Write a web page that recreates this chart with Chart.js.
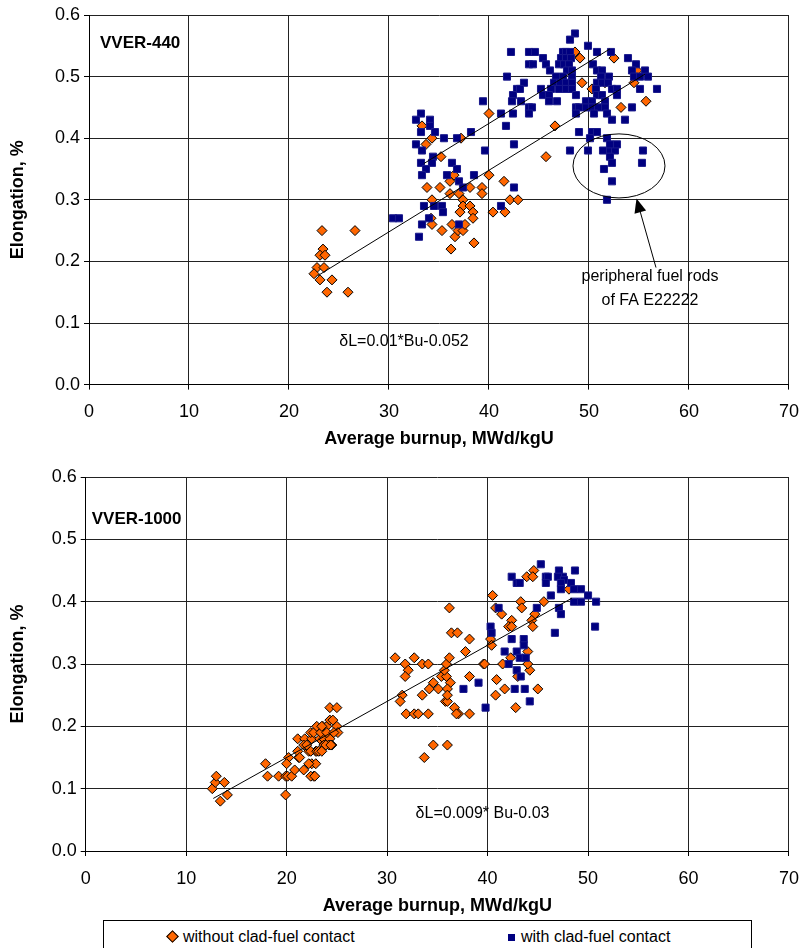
<!DOCTYPE html>
<html>
<head>
<meta charset="utf-8">
<script src="https://cdn.jsdelivr.net/npm/chart.js@4.4.0/dist/chart.umd.min.js"></script>
<style>
  body { margin: 0; background: #fff; }
  #wrap { position: relative; width: 811px; height: 948px; overflow: hidden; }
  .panel { position: absolute; left: 0; }
  #legend {
    position: absolute; left: 103px; top: 920px; width: 649px; height: 40px;
    border: 1px solid #000; box-sizing: border-box;
    font: 16px 'Liberation Sans Narrow', 'Arial Narrow', 'Liberation Sans', Arial, sans-serif;
  }
  #legend .item { position: absolute; top: 7px; white-space: nowrap; }
  #legend .diamond {
    display: inline-block; width: 7px; height: 7px; background: #ff6600;
    border: 1px solid #000; transform: rotate(45deg); margin-right: 6px; vertical-align: 1px;
  }
  #legend .square {
    display: inline-block; width: 7px; height: 7px; background: #000080;
    margin-right: 6px; vertical-align: 1px;
  }
</style>
</head>
<body>
<div id="wrap">
  <div class="panel" style="top:0"><canvas id="vver440" width="811" height="450"></canvas></div>
  <div class="panel" style="top:462px"><canvas id="vver1000" width="811" height="455"></canvas></div>
  <div id="legend">
    <span class="item" style="left:64px"><span class="diamond"></span>without clad-fuel contact</span>
    <span class="item" style="left:404px"><span class="square"></span>with clad-fuel contact</span>
  </div>
</div>
<script>
// VVER-440: [burnup, elongation]
const vver440Without = [
  [23.3,0.25],[26.6,0.25],[23.4,0.22],[23.1,0.21],[23.6,0.21],[22.8,0.19],[23.5,0.19],[22.5,0.18],
  [23.1,0.17],[24.3,0.17],[23.8,0.15],[25.9,0.15],
  [33.3,0.42],[33.7,0.39],[34.3,0.40],[35.2,0.37],[33.8,0.32],[35.1,0.32],[34.3,0.30],[34.2,0.27],
  [34.3,0.26],[35.3,0.25],[36.2,0.22],[36.3,0.26],[36.6,0.24],[36.1,0.33],[36.5,0.34],[36.1,0.31],
  [37.0,0.31],[37.2,0.40],[37.4,0.30],[37.4,0.29],[37.1,0.28],[36.9,0.25],[37.4,0.25],[37.6,0.26],
  [38.1,0.32],[38.1,0.29],[38.4,0.28],[38.4,0.27],[38.5,0.23],[39.3,0.32],[39.3,0.31],[40.0,0.44],
  [40.0,0.34],[40.4,0.28],[41.5,0.33],[41.6,0.28],[42.1,0.30],[42.9,0.30],[45.7,0.37],[46.6,0.42],
  [48.6,0.54],[49.1,0.53],[49.3,0.49],[50.3,0.48],[51.6,0.49],[52.5,0.53],[53.2,0.45],[54.5,0.49],
  [55.7,0.46],[54.8,0.51]
];
const vver440With = [
  [33.2,0.44],[32.7,0.43],[34.1,0.43],[34.1,0.42],[33.2,0.41],[34.6,0.41],[35.5,0.40],[36.8,0.40],
  [38.2,0.41],[32.7,0.39],[33.3,0.38],[39.6,0.38],[34.4,0.37],[33.2,0.36],[34.3,0.36],[33.7,0.35],
  [33.3,0.34],[36.3,0.36],[36.8,0.35],[35.8,0.34],[37.0,0.33],[37.4,0.32],[38.5,0.34],[33.5,0.29],
  [34.5,0.29],[35.3,0.29],[35.4,0.28],[34.0,0.27],[33.3,0.26],[33.0,0.24],[30.4,0.27],[31.0,0.27],
  [37.0,0.26],
  [48.6,0.57],[48.1,0.56],[49.9,0.55],[42.2,0.54],[44.0,0.54],[44.6,0.54],[47.4,0.54],[47.7,0.54],
  [48.1,0.54],[50.8,0.54],[52.2,0.54],[45.4,0.53],[47.2,0.53],[47.7,0.53],[48.2,0.53],[53.9,0.53],
  [44.0,0.52],[44.4,0.52],[45.7,0.52],[47.0,0.52],[47.5,0.52],[48.0,0.52],[50.4,0.52],[54.7,0.52],
  [55.6,0.51],[46.1,0.51],[47.8,0.51],[48.3,0.51],[50.8,0.51],[51.3,0.51],[54.3,0.51],[41.8,0.50],
  [46.7,0.50],[47.4,0.50],[48.3,0.50],[51.2,0.50],[52.0,0.50],[54.5,0.50],[55.1,0.50],[55.9,0.50],
  [43.5,0.49],[46.5,0.49],[47.1,0.49],[47.7,0.49],[48.3,0.49],[50.8,0.49],[51.3,0.49],[51.9,0.49],
  [42.8,0.48],[43.1,0.48],[45.2,0.48],[46.2,0.48],[47.0,0.48],[47.7,0.48],[48.3,0.48],[50.7,0.48],
  [52.3,0.48],[52.8,0.48],[55.1,0.48],[56.8,0.48],[42.4,0.47],[45.4,0.47],[46.0,0.47],[48.7,0.47],
  [50.8,0.47],[51.3,0.47],[52.8,0.47],[39.4,0.46],[42.3,0.46],[43.2,0.46],[46.0,0.46],[46.8,0.46],
  [49.7,0.46],[50.3,0.46],[51.6,0.46],[44.0,0.45],[44.3,0.45],[48.7,0.45],[49.0,0.45],[49.7,0.45],
  [50.3,0.45],[50.9,0.45],[51.6,0.45],[54.3,0.45],[41.2,0.44],[42.4,0.44],[44.0,0.44],[48.7,0.44],
  [50.5,0.44],[51.8,0.44],[52.3,0.43],[53.6,0.43],[41.7,0.42],[49.0,0.41],[50.3,0.41],[50.8,0.41],
  [50.1,0.40],[42.5,0.39],[48.1,0.38],[49.9,0.38],[51.4,0.38],[52.1,0.38],[52.6,0.38],[51.8,0.40],
  [52.1,0.39],[52.8,0.39],[52.1,0.37],[55.4,0.38],[52.3,0.36],[51.5,0.35],[55.3,0.36],[52.3,0.33],
  [51.8,0.30],[42.5,0.32],[41.2,0.29]
];

// VVER-1000: [burnup, elongation]
const vver1000Without = [
  [12.6,0.10],[12.9,0.11],[13.0,0.12],[13.8,0.11],[13.4,0.08],[14.1,0.09],[17.9,0.14],[18.1,0.12],
  [19.2,0.12],[19.9,0.09],
  [19.9,0.12],[20.1,0.12],[20.5,0.12],[20.2,0.15],[20.0,0.14],[20.8,0.13],[21.2,0.15],[21.1,0.16],
  [21.7,0.13],[21.1,0.18],[21.8,0.18],[22.5,0.18],[22.4,0.19],[22.7,0.19],[23.0,0.20],[23.6,0.20],
  [23.3,0.18],[23.7,0.18],[24.3,0.18],[24.0,0.20],[24.3,0.21],[24.6,0.21],[24.3,0.23],[25.0,0.23],
  [25.0,0.20],[25.1,0.19],[23.4,0.19],[24.0,0.19],[24.7,0.19],[22.2,0.16],[22.9,0.16],[23.7,0.17],
  [24.2,0.17],[24.5,0.17],[21.7,0.17],[22.4,0.16],[23.0,0.16],[22.5,0.14],[22.9,0.14],[22.7,0.12],
  [22.4,0.12],[22.2,0.14],[22.8,0.12],[23.2,0.16],[23.9,0.17],[24.4,0.17],[23.5,0.16],[21.3,0.15],
  [23.5,0.20],[22.0,0.17],
  [30.8,0.31],[31.8,0.30],[32.1,0.29],[31.8,0.28],[32.7,0.31],[33.5,0.30],[34.1,0.30],[31.5,0.25],
  [31.3,0.24],[31.9,0.22],[32.7,0.22],[33.1,0.22],[34.1,0.22],[33.5,0.25],[34.2,0.26],[34.6,0.27],
  [35.1,0.26],[35.4,0.28],[35.9,0.28],[36.3,0.27],[35.7,0.29],[35.9,0.30],[36.2,0.31],[36.4,0.35],
  [37.0,0.35],[38.2,0.34],[37.8,0.32],[39.6,0.30],[38.2,0.28],[35.8,0.24],[36.0,0.24],[36.7,0.23],
  [37.1,0.22],[38.2,0.22],[33.7,0.15],[34.6,0.17],[36.0,0.17],[36.0,0.26],[36.2,0.39],[36.0,0.25],
  [44.6,0.45],[43.9,0.44],[44.5,0.44],[40.5,0.41],[43.3,0.40],[40.8,0.39],[43.4,0.39],[45.6,0.40],
  [41.4,0.38],[44.7,0.38],[42.4,0.37],[42.1,0.36],[42.4,0.36],[44.4,0.37],[44.5,0.36],[40.3,0.34],
  [40.4,0.33],[44.0,0.32],[42.3,0.31],[41.5,0.30],[39.7,0.30],[44.2,0.29],[44.0,0.30],[43.0,0.28],
  [40.9,0.275],[41.7,0.26],[45.0,0.26],[40.8,0.25],[42.8,0.23],[48.1,0.42],[36.9,0.22]
];
const vver1000With = [
  [45.3,0.46],[42.4,0.44],[42.9,0.43],[43.2,0.43],[45.8,0.44],[46.0,0.44],[45.8,0.43],[47.1,0.45],
  [47.5,0.44],[47.0,0.44],[47.6,0.435],[47.3,0.43],[47.3,0.42],[48.3,0.43],[48.6,0.42],[49.3,0.42],
  [48.7,0.45],[50.0,0.41],[48.6,0.40],[49.3,0.40],[50.8,0.40],[46.3,0.41],[44.9,0.39],[41.1,0.39],
  [47.1,0.39],[47.3,0.38],[46.7,0.35],[50.7,0.36],[40.3,0.36],[40.4,0.35],[42.4,0.34],[43.6,0.34],
  [43.6,0.33],[41.7,0.32],[42.9,0.32],[43.2,0.31],[43.8,0.31],[42.1,0.30],[42.9,0.29],[43.3,0.28],
  [39.1,0.27],[37.6,0.26],[42.7,0.26],[43.7,0.26],[44.2,0.24],[39.8,0.23]
];

// linear fits: [slope, intercept, first burnup, last burnup]
const fit440 = [0.01, -0.052, 22.9, 55.6];
const fit440With = [0.01, 0.024, 33.5, 52.1];
const fit1000 = [0.009, -0.03, 12.7, 48.4];

const xTicks = [0, 10, 20, 30, 40, 50, 60, 70];
const yTicks = [0, 0.1, 0.2, 0.3, 0.4, 0.5, 0.6];

const NARROW = "'Liberation Sans Narrow', 'Arial Narrow', 'Liberation Sans', Arial, sans-serif";
const WIDE = "'Liberation Sans', Arial, sans-serif";

const toXY = pts => pts.map(p => ({ x: p[0], y: p[1] }));
const fitLine = f => [{ x: f[2], y: f[0] * f[2] + f[1] }, { x: f[3], y: f[0] * f[3] + f[1] }];

// text, ellipse and arrow drawn in data coordinates
const notesPlugin = {
  id: 'notes',
  afterDatasetsDraw(chart, args, opts) {
    const { ctx } = chart;
    const xs = chart.scales.x, ys = chart.scales.y;
    const px = v => xs.getPixelForValue(v), py = v => ys.getPixelForValue(v);
    ctx.save();
    ctx.strokeStyle = '#000';
    ctx.fillStyle = '#000';
    ctx.lineWidth = 1;
    (opts.ellipses || []).forEach(e => {
      const cx = px(e.x), cy = py(e.y);
      ctx.beginPath();
      ctx.ellipse(cx, cy, Math.abs(px(e.x + e.rx) - cx), Math.abs(py(e.y + e.ry) - cy), 0, 0, Math.PI * 2);
      ctx.stroke();
    });
    (opts.arrows || []).forEach(a => {
      const x0 = px(a.from[0]), y0 = py(a.from[1]), x1 = px(a.to[0]), y1 = py(a.to[1]);
      const ang = Math.atan2(y1 - y0, x1 - x0);
      const len = 14, half = 6;
      const bx = x1 - len * Math.cos(ang), by = y1 - len * Math.sin(ang);
      ctx.beginPath();
      ctx.moveTo(x0, y0);
      ctx.lineTo(bx, by);
      ctx.stroke();
      ctx.beginPath();
      ctx.moveTo(x1, y1);
      ctx.lineTo(bx + half * Math.sin(ang), by - half * Math.cos(ang));
      ctx.lineTo(bx - half * Math.sin(ang), by + half * Math.cos(ang));
      ctx.closePath();
      ctx.fill();
    });
    (opts.labels || []).forEach(l => {
      ctx.font = l.font;
      ctx.textAlign = l.align || 'center';
      ctx.textBaseline = 'middle';
      ctx.fillText(l.text, px(l.x), py(l.y));
    });
    ctx.restore();
  }
};

function makeChart(id, without, withC, fits, area, notes) {
  const datasets = fits.map(f => ({
    type: 'line', data: fitLine(f), borderColor: '#000', borderWidth: 1,
    pointRadius: 0, fill: false, order: 0
  }));
  datasets.push({
    label: 'with clad-fuel contact', data: toXY(withC), pointStyle: 'rect', pointRadius: 5,
    backgroundColor: '#000080', borderColor: '#1a1a8c', borderWidth: 1, order: 1
  });
  datasets.push({
    label: 'without clad-fuel contact', data: toXY(without), pointStyle: 'rectRot', pointRadius: 5,
    backgroundColor: '#ff6600', borderColor: '#000', borderWidth: 1, order: 2
  });

  return new Chart(document.getElementById(id), {
    type: 'scatter',
    data: { datasets },
    plugins: [notesPlugin],
    options: {
      responsive: false,
      animation: false,
      events: [],
      layout: { padding: { top: 15, right: area.right, left: 0, bottom: 0 } },
      plugins: { legend: { display: false }, tooltip: { enabled: false }, notes },
      scales: {
        x: {
          type: 'linear', min: 0, max: 70,
          afterBuildTicks: s => { s.ticks = xTicks.map(v => ({ value: v })); },
          ticks: { color: '#000', padding: 12, font: { family: NARROW, size: 18 } },
          grid: { color: '#222', lineWidth: 1, tickLength: 5, tickColor: '#000' },
          border: { color: '#000', width: 1 },
          title: {
            display: true, text: 'Average burnup, MWd/kgU', color: '#000',
            font: { family: NARROW, size: 18, weight: 'bold' }, padding: { top: 0, bottom: 0 }
          },
          afterFit: s => { s.height = area.xHeight; }
        },
        y: {
          type: 'linear', min: 0, max: 0.6,
          afterBuildTicks: s => { s.ticks = yTicks.map(v => ({ value: v })); },
          ticks: { color: '#000', padding: 4, font: { family: NARROW, size: 18 }, callback: v => v.toFixed(1) },
          grid: { color: '#222', lineWidth: 1, tickLength: 5, tickColor: '#000' },
          border: { color: '#000', width: 1 },
          title: {
            display: true, text: 'Elongation, %', color: '#000',
            font: { family: WIDE, size: 18, weight: 'bold' }, padding: { top: 7, bottom: 0 }
          },
          afterFit: s => { s.width = area.left; }
        }
      }
    }
  });
}

makeChart('vver440', vver440Without, vver440With, [fit440, fit440With],
  { left: 89, right: 16, xHeight: 65.4 },
  {
    labels: [
      { text: 'VVER-440', x: 1.1, y: 0.554, align: 'left', font: 'bold 17px ' + NARROW },
      { text: 'peripheral fuel rods', x: 56.1, y: 0.175, font: '16px ' + NARROW },
      { text: 'of FA E22222', x: 56.1, y: 0.137, font: '16px ' + NARROW },
      { text: 'δL=0.01*Bu-0.052', x: 31.5, y: 0.07, font: '16px ' + NARROW }
    ],
    ellipses: [{ x: 53.0, y: 0.355, rx: 4.6, ry: 0.052 }],
    arrows: [{ from: [56.7, 0.19], to: [54.75, 0.302] }]
  });

makeChart('vver1000', vver1000Without, vver1000With, [fit1000],
  { left: 85.7, right: 11.3, xHeight: 66 },
  {
    labels: [
      { text: 'VVER-1000', x: 0.6, y: 0.532, align: 'left', font: 'bold 17px ' + NARROW },
      { text: 'δL=0.009* Bu-0.03', x: 39.5, y: 0.06, font: '16px ' + NARROW }
    ]
  });
</script>
</body>
</html>
